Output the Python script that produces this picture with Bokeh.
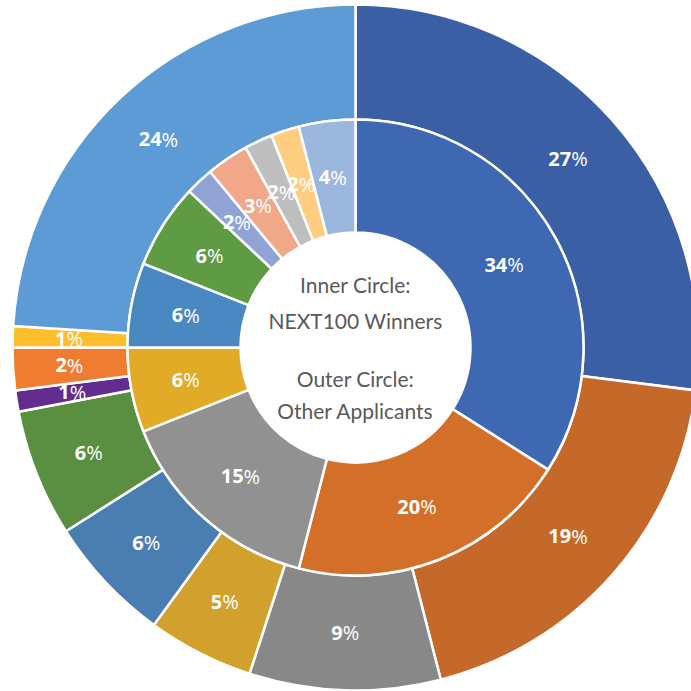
import numpy as np
from bokeh.plotting import figure
from bokeh.models import ColumnDataSource, Range1d
from bokeh.core.properties import value
from bokeh.embed import file_html
from bokeh.resources import INLINE

# ---- data -------------------------------------------------------------
outer_values = [27, 19, 9, 5, 6, 6, 1, 2, 1, 24]
outer_colors = ["#3A5FA5", "#C4692A", "#888888", "#D2A12D", "#4A7EB1",
                "#5A8E41", "#622D8F", "#EE7D32", "#FDBE2B", "#5C9BD5"]
inner_values = [34, 20, 15, 6, 6, 6, 2, 3, 2, 2, 4]
inner_colors = ["#3F68B2", "#D46F2A", "#919191", "#E1AA27", "#4A88C1",
                "#5F9B42", "#8FA3D5", "#F1A889", "#BEBEBE", "#FFCD80", "#9BB7DE"]
center_lines = ["Inner Circle:", "NEXT100 Winners", "Outer Circle:", "Other Applicants"]

# ---- geometry ---------------------------------------------------------
R_OUT = 343
R_MID = 228
R_IN = 115

W, H = 691, 691
CX_PX, CY_PX = 355, 347  # centre in plot pixels from top-left


def ring(values, colors, r_in, r_out):
    v = np.array(values, dtype=float)
    frac = v / v.sum()
    cum = np.concatenate([[0], np.cumsum(frac)])
    start = np.pi / 2 - 2 * np.pi * cum[:-1]
    end = np.pi / 2 - 2 * np.pi * cum[1:]
    mid = (start + end) / 2
    rl = (r_in + r_out) / 2
    nums = [str(int(x)) for x in values]
    dx = [5.25 * len(n) - 9 for n in nums]
    return ColumnDataSource(dict(
        start=start, end=end, color=colors,
        lx=rl * np.cos(mid), ly=rl * np.sin(mid),
        num=nums, pct=["%"] * len(nums), dx=dx,
    ))


p = figure(width=W, height=H, output_backend="svg", toolbar_location=None,
           x_range=Range1d(-CX_PX, W - CX_PX), y_range=Range1d(-(H - CY_PX), CY_PX),
           min_border=0, background_fill_color="white", border_fill_color="white")
p.axis.visible = False
p.grid.visible = False
p.outline_line_color = None

for vals, cols, ri, ro in [(outer_values, outer_colors, R_MID, R_OUT),
                           (inner_values, inner_colors, R_IN, R_MID)]:
    src = ring(vals, cols, ri, ro)
    p.annular_wedge(x=0, y=0, inner_radius=ri, outer_radius=ro,
                    start_angle="start", end_angle="end", direction="clock",
                    fill_color="color", line_color="white", line_width=2.5,
                    source=src)
    p.text(x="lx", y="ly", text="num", source=src, x_offset="dx",
           text_font=value("Open Sans"), text_font_style="bold",
           text_font_size="20px", text_color="white",
           text_align="right", text_baseline="middle")
    p.text(x="lx", y="ly", text="pct", source=src, x_offset="dx",
           text_font=value("Open Sans"), text_font_style="normal",
           text_font_size="20px", text_color="white",
           text_align="left", text_baseline="middle")

line_y = [63, 27, -31, -63]
p.text(x=[0] * len(center_lines), y=line_y, text=center_lines,
       text_font=value("Lato"), text_font_size="21px",
       text_color="#595959", text_align="center", text_baseline="middle")

open("out.html", "w").write(file_html(p, INLINE))
